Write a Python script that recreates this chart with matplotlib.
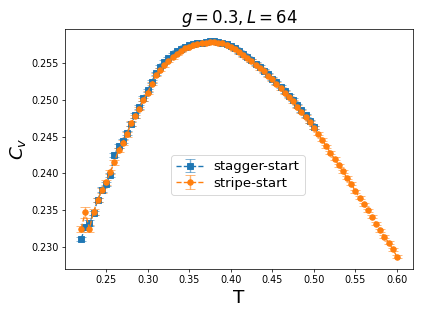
import matplotlib
matplotlib.use("Agg")
import matplotlib.pyplot as plt
import numpy as np

T_stagger = [0.220, 0.225, 0.230, 0.235, 0.240, 0.245, 0.250, 0.255, 0.260, 0.265,
             0.270, 0.275, 0.280, 0.285, 0.290, 0.295, 0.300, 0.305, 0.310, 0.315,
             0.320, 0.325, 0.330, 0.335, 0.340, 0.345, 0.350, 0.355, 0.360, 0.365,
             0.370, 0.375, 0.380, 0.385, 0.390, 0.395, 0.400, 0.405, 0.410, 0.415,
             0.420, 0.425, 0.430, 0.435, 0.440, 0.445, 0.450, 0.455, 0.460, 0.465,
             0.470, 0.475, 0.480, 0.485, 0.490, 0.495, 0.500]
Cv_stagger = [0.2311, 0.2327, 0.2333, 0.2346, 0.2364, 0.2378, 0.2386, 0.2398, 0.2425, 0.2437,
              0.2444, 0.2455, 0.2467, 0.2479, 0.2490, 0.2502, 0.2513, 0.2525, 0.2536, 0.2545,
              0.2552, 0.2557, 0.2562, 0.2566, 0.2569, 0.2572, 0.2574, 0.2576, 0.2577, 0.2578,
              0.2579, 0.2580, 0.2580, 0.2579, 0.2578, 0.2576, 0.2573, 0.2570, 0.2566, 0.2562,
              0.2558, 0.2554, 0.2549, 0.2545, 0.2540, 0.2535, 0.2529, 0.2524, 0.2518, 0.2512,
              0.2506, 0.2500, 0.2493, 0.2486, 0.2479, 0.2471, 0.2463]
err_stagger = [0.0003, 0.0004, 0.0004, 0.0003, 0.0003, 0.0003, 0.0003, 0.0003, 0.0003, 0.0003,
               0.0003, 0.0003, 0.0003, 0.0003, 0.0003, 0.0003, 0.0002, 0.0002, 0.0002, 0.0002,
               0.0002, 0.0002, 0.0002, 0.0002, 0.0002, 0.0002, 0.0002, 0.0002, 0.0002, 0.0002,
               0.0002, 0.0002, 0.0002, 0.0002, 0.0002, 0.0002, 0.0002, 0.0002, 0.0002, 0.0002,
               0.0002, 0.0002, 0.0002, 0.0002, 0.0002, 0.0002, 0.0002, 0.0002, 0.0002, 0.0002,
               0.0002, 0.0002, 0.0002, 0.0002, 0.0002, 0.0002, 0.0002]

T_stripe = [0.220, 0.225, 0.230, 0.235, 0.240, 0.245, 0.250, 0.255, 0.260, 0.265,
            0.270, 0.275, 0.280, 0.285, 0.290, 0.295, 0.300, 0.305, 0.310, 0.315,
            0.320, 0.325, 0.330, 0.335, 0.340, 0.345, 0.350, 0.355, 0.360, 0.365,
            0.370, 0.375, 0.380, 0.385, 0.390, 0.395, 0.400, 0.405, 0.410, 0.415,
            0.420, 0.425, 0.430, 0.435, 0.440, 0.445, 0.450, 0.455, 0.460, 0.465,
            0.470, 0.475, 0.480, 0.485, 0.490, 0.495, 0.500, 0.505, 0.510, 0.515,
            0.520, 0.525, 0.530, 0.535, 0.540, 0.545, 0.550, 0.555, 0.560, 0.565,
            0.570, 0.575, 0.580, 0.585, 0.590, 0.595, 0.600]
Cv_stripe = [0.2325, 0.2347, 0.2325, 0.2348, 0.2364, 0.2377, 0.2388, 0.2402, 0.2415, 0.2432,
             0.2442, 0.2453, 0.2468, 0.2478, 0.2488, 0.2500, 0.2510, 0.2522, 0.2534, 0.2541,
             0.2547, 0.2553, 0.2558, 0.2563, 0.2567, 0.2570, 0.2572, 0.2574, 0.2576, 0.2577,
             0.2578, 0.2579, 0.2579, 0.2578, 0.2577, 0.2575, 0.2572, 0.2569, 0.2565, 0.2561,
             0.2557, 0.2553, 0.2548, 0.2543, 0.2539, 0.2533, 0.2528, 0.2522, 0.2516, 0.2510,
             0.2504, 0.2498, 0.2491, 0.2484, 0.2477, 0.2470, 0.2462, 0.2454, 0.2446, 0.2437,
             0.2428, 0.2420, 0.2411, 0.2403, 0.2394, 0.2386, 0.2376, 0.2367, 0.2358, 0.2350,
             0.2341, 0.2332, 0.2323, 0.2314, 0.2306, 0.2297, 0.2287]
err_stripe = [0.0004, 0.0007, 0.0005, 0.0004, 0.0003, 0.0003, 0.0003, 0.0003, 0.0003, 0.0003,
              0.0003, 0.0003, 0.0003, 0.0002, 0.0002, 0.0002, 0.0002, 0.0002, 0.0002, 0.0002,
              0.0002, 0.0002, 0.0002, 0.0002, 0.0002, 0.0002, 0.0002, 0.0002, 0.0002, 0.0002,
              0.0002, 0.0002, 0.0002, 0.0002, 0.0002, 0.0002, 0.0002, 0.0002, 0.0002, 0.0002,
              0.0002, 0.0002, 0.0002, 0.0002, 0.0002, 0.0002, 0.0002, 0.0002, 0.0002, 0.0002,
              0.0002, 0.0002, 0.0002, 0.0002, 0.0002, 0.0002, 0.0002, 0.0002, 0.0002, 0.0002,
              0.0002, 0.0002, 0.0002, 0.0002, 0.0002, 0.0002, 0.0002, 0.0002, 0.0002, 0.0002,
              0.0002, 0.0002, 0.0002, 0.0002, 0.0002, 0.0002, 0.0002]

fig = plt.figure(figsize=(423 / 66, 318 / 66), dpi=66)
ax = fig.add_axes([0.1544, 0.1541, 0.8213, 0.7557])

for T, Cv, err, marker, color, label in [
    (T_stagger, Cv_stagger, err_stagger, 's', 'C0', 'stagger-start'),
    (T_stripe, Cv_stripe, err_stripe, 'o', 'C1', 'stripe-start'),
]:
    cont = ax.errorbar(T, Cv, yerr=err, fmt=marker, linestyle='--', color=color,
                       capsize=5, label=label)
    for c in cont[1]:
        c.set_alpha(0.6)
    for c in cont[2]:
        c.set_alpha(0.6)

ax.tick_params(labelsize=10.5)
ax.set_title(r'$g=0.3, L=64$', fontsize=18)
ax.set_xlabel('T', fontsize=20)
ax.set_ylabel(r'$C_v$', fontsize=20)
ax.legend(loc='center', bbox_to_anchor=(0.497, 0.391), fontsize=14.5,
          labelspacing=0.25, handlelength=2.0)

fig.savefig('out.png', dpi=66)
